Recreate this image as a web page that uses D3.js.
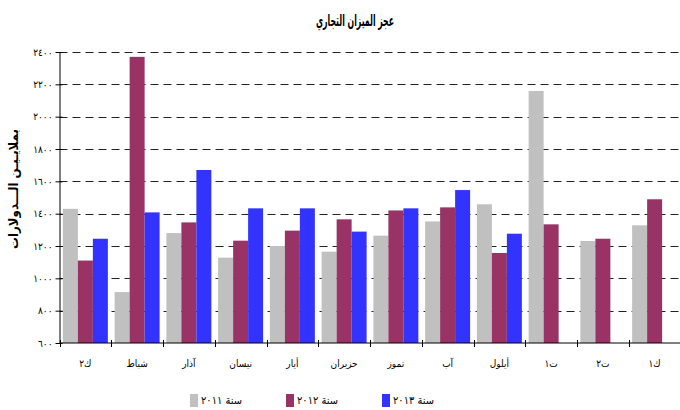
<!DOCTYPE html>
<html>
<head>
<meta charset="utf-8">
<script src="https://cdn.jsdelivr.net/npm/d3@7"></script>
<style>
    body { margin: 0; background: #fff; }
    svg { display: block; font-family: "DejaVu Sans Condensed", "DejaVu Sans", sans-serif; }
</style>
</head>
<body>
<div id="chart"></div>
<script>
const months = ['ك٢', 'شباط', 'آذار', 'نيسان', 'أيار', 'حزيران', 'تموز', 'آب', 'أيلول', 'ت١', 'ت٢', 'ك١'];
const seriesNames = ['سنة ٢٠١١', 'سنة ٢٠١٢', 'سنة ٢٠١٣'];
const values2011 = [1430, 915, 1280, 1128, 1200, 1165, 1264, 1352, 1458, 2159, 1231, 1328];
const values2012 = [1110, 2370, 1346, 1233, 1295, 1365, 1420, 1439, 1157, 1334, 1245, 1489];
const values2013 = [1245, 1408, 1670, 1433, 1433, 1289, 1433, 1546, 1276, null, null, null];
const yTicks = [600, 800, 1000, 1200, 1400, 1600, 1800, 2000, 2200, 2400];

const COLORS = ['#C0C0C0', '#993366', '#3333FF'];
const W = 680, H = 410;
const _PLOT = { left: 59.5, right: 680.5, top: 52, bottom: 343 };

const allSeries = [values2011, values2012, values2013];

// arabic-indic digits for the y labels
const arabicDigits = '٠١٢٣٤٥٦٧٨٩';
function toArabic(n) {
    return String(n).replace(/[0-9]/g, d => arabicDigits[+d]);
}

let svg = d3.select('#chart').append('svg')
    .attr('width', W)
    .attr('height', H);

let x0 = d3.scaleBand()
    .domain(months)
    .range([_PLOT.left, _PLOT.right])
    .paddingInner(0)
    .paddingOuter(0);

let x1 = d3.scaleBand()
    .domain(d3.range(seriesNames.length))
    .range([0, x0.bandwidth()])
    .paddingInner(0)
    .paddingOuter(0.226);

let y = d3.scaleLinear()
    .domain([600, 2400])
    .range([_PLOT.bottom, _PLOT.top]);

// title (squeezed, the original font is a narrow one)
svg.append('text')
    .attr('x', 355)
    .attr('y', 26)
    .attr('text-anchor', 'middle')
    .attr('font-size', 16)
    .attr('font-weight', 'bold')
    .attr('textLength', 78)
    .attr('lengthAdjust', 'spacingAndGlyphs')
    .text('عجز الميزان التجاري');

// gridlines
svg.append('g')
    .attr('class', 'grid')
    .selectAll('line')
    .data(yTicks.filter(t => t > 600))
    .join('line')
    .attr('x1', _PLOT.left)
    .attr('x2', W)
    .attr('y1', d => Math.round(y(d)) + 0.5)
    .attr('y2', d => Math.round(y(d)) + 0.5)
    .attr('stroke', '#222')
    .attr('stroke-width', 1)
    .attr('stroke-dasharray', '8,5');

// bars
let groups = svg.append('g')
    .selectAll('g')
    .data(months)
    .join('g')
    .attr('transform', d => 'translate(' + x0(d) + ',0)');

groups.selectAll('rect')
    .data((m, i) => allSeries.map((s, k) => ({ k: k, v: s[i] })).filter(d => d.v != null))
    .join('rect')
    .attr('x', d => x1(d.k))
    .attr('width', x1.bandwidth())
    .attr('y', d => y(d.v))
    .attr('height', d => y(600) - y(d.v))
    .attr('fill', d => COLORS[d.k]);

// y axis
let yAxis = d3.axisLeft(y)
    .tickValues(yTicks)
    .tickSizeInner(4)
    .tickSizeOuter(0)
    .tickPadding(3)
    .tickFormat(toArabic);
let gY = svg.append('g')
    .attr('transform', 'translate(' + _PLOT.left + ',0)')
    .call(yAxis);
gY.select('.domain').attr('stroke', '#000');
gY.selectAll('.tick line').attr('x2', -4).attr('x1', 3).attr('stroke', '#000');
gY.selectAll('.tick text')
    .attr('font-size', 10)
    .attr('font-family', '"DejaVu Sans Condensed", "DejaVu Sans", sans-serif')
    .attr('fill', '#000');

// y title
svg.append('text')
    .attr('transform', 'translate(18,189) rotate(-90)')
    .attr('text-anchor', 'middle')
    .attr('font-size', 13)
    .attr('font-weight', 'bold')
    .attr('textLength', 120)
    .attr('lengthAdjust', 'spacingAndGlyphs')
    .text('بملايـيـن الـــدولارات');

// x axis
let gX = svg.append('g').attr('class', 'x-axis');
gX.append('line')
    .attr('x1', _PLOT.left)
    .attr('x2', W)
    .attr('y1', _PLOT.bottom)
    .attr('y2', _PLOT.bottom)
    .attr('stroke', '#000');
gX.selectAll('line.tick')
    .data(months.concat(['end']))
    .join('line')
    .attr('class', 'tick')
    .attr('x1', (d, i) => Math.round(_PLOT.left + i * x0.step()) + 0.5)
    .attr('x2', (d, i) => Math.round(_PLOT.left + i * x0.step()) + 0.5)
    .attr('y1', _PLOT.bottom - 3)
    .attr('y2', _PLOT.bottom + 4)
    .attr('stroke', '#000');
gX.selectAll('text')
    .data(months)
    .join('text')
    .attr('x', d => x0(d) + x0.bandwidth() / 2)
    .attr('y', 367)
    .attr('text-anchor', 'middle')
    .attr('font-size', 10)
    .text(d => d);

// legend
let legendX = [190, 286, 382];
let legend = svg.append('g')
    .selectAll('g')
    .data(seriesNames)
    .join('g')
    .attr('transform', (d, i) => 'translate(' + legendX[i] + ',394)');
legend.append('rect')
    .attr('width', 8)
    .attr('height', 13)
    .attr('fill', (d, i) => COLORS[i]);
legend.append('text')
    .attr('x', 11)
    .attr('y', 10)
    .attr('font-size', 11)
    .text(d => d);
</script>
</body>
</html>
